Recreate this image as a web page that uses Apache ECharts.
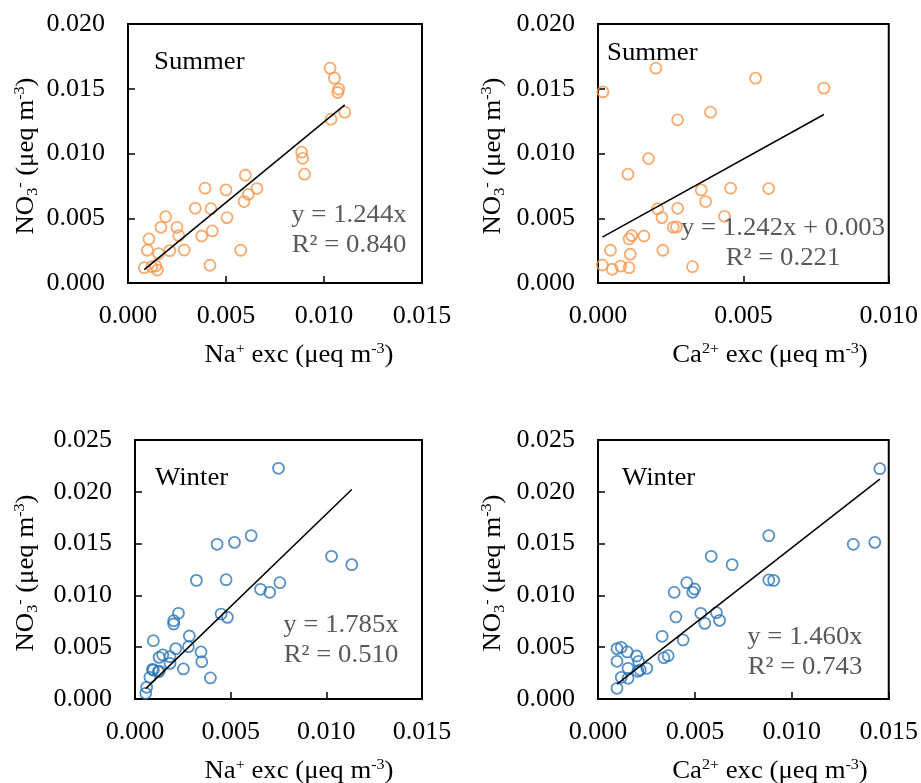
<!DOCTYPE html>
<html>
<head>
<meta charset="utf-8">
<script src="https://cdn.jsdelivr.net/npm/echarts@6/dist/echarts.min.js"></script>
<style>
html,body{margin:0;padding:0;background:#fff;}
#c{width:921px;height:783px;}
</style>
</head>
<body>
<div id="c"></div>
<script>
// ---- Data ----
const summerNaX = [0.01031,0.01053,0.01075,0.0107,0.01106,0.01036,0.00886,0.00891,0.00901,0.00599,0.00658,0.00614,0.00592,0.005,0.00393,0.00343,0.00423,0.00505,0.00192,0.00168,0.0025,0.00259,0.00376,0.0043,0.00107,0.00099,0.00156,0.00213,0.00287,0.00575,0.00418,0.00083,0.00121,0.00141,0.0015];
const summerNaY = [0.01659,0.01582,0.01497,0.01471,0.01319,0.01265,0.0101,0.00963,0.0084,0.00832,0.00729,0.00685,0.00629,0.00719,0.00732,0.00577,0.00574,0.00505,0.00512,0.0043,0.0043,0.00366,0.00363,0.00402,0.0034,0.00253,0.00227,0.0025,0.00255,0.00253,0.00137,0.00118,0.00126,0.00131,0.001];

const summerCaX = [0.00199,0.00542,0.00777,0.00017,0.00387,0.00274,0.00174,0.00103,0.00355,0.00456,0.00587,0.0037,0.00205,0.00274,0.0022,0.00435,0.00259,0.0027,0.00107,0.00116,0.00158,0.00043,0.00111,0.00223,0.00015,0.00049,0.00078,0.00107,0.00325];
const summerCaY = [0.01659,0.01582,0.01505,0.01476,0.01319,0.0126,0.00961,0.0084,0.00719,0.00732,0.00729,0.00629,0.00574,0.00577,0.00505,0.00515,0.0043,0.00433,0.0034,0.00366,0.00363,0.00253,0.00222,0.00253,0.00139,0.00106,0.00131,0.00118,0.00126];

const winterNaX = [0.0075,0.00607,0.00429,0.0052,0.01027,0.01133,0.00321,0.00476,0.00656,0.00704,0.00757,0.00227,0.00202,0.00202,0.0045,0.00483,0.00284,0.00279,0.00213,0.00096,0.00345,0.00349,0.00253,0.00394,0.00145,0.00126,0.00183,0.00183,0.00096,0.00122,0.00078,0.00061,0.00056,0.00127,0.00091];
const winterNaY = [0.02227,0.01577,0.01493,0.01512,0.01377,0.01297,0.01145,0.01152,0.01059,0.0103,0.01123,0.00827,0.00756,0.00724,0.0082,0.00788,0.00608,0.00505,0.00486,0.00563,0.00454,0.0036,0.0029,0.00203,0.00425,0.00402,0.00409,0.00344,0.0028,0.00264,0.00209,0.00113,0.00055,0.0027,0.00286];

const winterCaX = [0.01454,0.00881,0.01317,0.01428,0.00584,0.00692,0.00881,0.00906,0.00458,0.00498,0.00489,0.00393,0.0053,0.00611,0.00551,0.00627,0.00402,0.00331,0.00439,0.0034,0.00362,0.00098,0.0012,0.00151,0.00199,0.00098,0.00209,0.00155,0.00252,0.00218,0.00206,0.0012,0.00155,0.00098];
const winterCaY = [0.02223,0.01577,0.01493,0.01512,0.01377,0.01297,0.01149,0.01145,0.01123,0.01062,0.0103,0.0103,0.00827,0.00833,0.0073,0.00759,0.00792,0.00605,0.0057,0.00399,0.00418,0.00486,0.00499,0.00454,0.00415,0.00364,0.00364,0.00296,0.00296,0.0028,0.00267,0.00209,0.002,0.00103];

const slopes = [1.244, 1.242, 1.785, 1.460];
const intercepts = [0, 0.00336, 0, 0];
const eqLabels = ['y = 1.244x', 'y = 1.242x + 0.003', 'y = 1.785x', 'y = 1.460x'];
const r2Labels = ['R² = 0.840', 'R² = 0.221', 'R² = 0.510', 'R² = 0.743'];
const seasonLabels = ['Summer', 'Summer', 'Winter', 'Winter'];
const xMaxes = [0.015, 0.010, 0.015, 0.015];
const yMaxes = [0.020, 0.020, 0.025, 0.025];
const tickStep = 0.005;

// ---- Chart ----
const FONT = 'Liberation Serif';
const ORANGE = '#F7964A';
const BLUE = '#2E75B6';
const GREY = '#595959';
const SX = 1.07;
const panels = [
  {x: summerNaX, y: summerNaY, color: ORANGE},
  {x: summerCaX, y: summerCaY, color: ORANGE},
  {x: winterNaX, y: winterNaY, color: BLUE},
  {x: winterCaX, y: winterCaY, color: BLUE}
];
const grids = [
  {left: 128, top: 24, width: 294, height: 259},
  {left: 598, top: 24, width: 291, height: 259},
  {left: 135, top: 440, width: 287, height: 259},
  {left: 598, top: 440, width: 291, height: 259}
];

const chart = echarts.init(document.getElementById('c'), null, {renderer: 'canvas'});

const axisCommon = {
  type: 'value',
  interval: tickStep,
  axisLine: {show: true, onZero: false, lineStyle: {color: '#000', width: 2}},
  axisTick: {show: true, inside: true, length: 7, lineStyle: {color: '#000', width: 1.5}},
  splitLine: {show: false},
  axisLabel: {formatter: v => v.toFixed(3), fontFamily: FONT, fontSize: 26, color: '#000'}
};

const xAxes = [], yAxes = [], series = [];
panels.forEach((p, i) => {
  xAxes.push(Object.assign({}, axisCommon, {gridIndex: i, min: 0, max: xMaxes[i],
    axisLabel: Object.assign({}, axisCommon.axisLabel, {margin: 20})}));
  yAxes.push(Object.assign({}, axisCommon, {gridIndex: i, min: 0, max: yMaxes[i],
    axisLabel: Object.assign({}, axisCommon.axisLabel, {margin: 23})}));
  series.push({
    type: 'scatter', xAxisIndex: i, yAxisIndex: i,
    data: p.x.map((v, k) => [v, p.y[k]]),
    symbol: 'circle', symbolSize: 11,
    itemStyle: {color: 'rgba(255,255,255,0)', borderColor: p.color, borderWidth: 1.8},
    z: 2
  });
  const xmin = Math.min(...p.x), xmax = Math.max(...p.x);
  series.push({
    type: 'line', xAxisIndex: i, yAxisIndex: i,
    data: [[xmin, slopes[i] * xmin + intercepts[i]], [xmax, slopes[i] * xmax + intercepts[i]]],
    symbol: 'none', lineStyle: {color: '#000', width: 1.5}, z: 3, silent: true
  });
});

const supSub = {
  main: {fontFamily: FONT, fontSize: 25, color: '#000', lineHeight: 30},
  sup: {fontFamily: FONT, fontSize: 15, color: '#000', verticalAlign: 'bottom', padding: [0, 0, 13, 0]},
  sub: {fontFamily: FONT, fontSize: 15, color: '#000', verticalAlign: 'bottom', padding: [0, 0, 0, 0]}
};
function richText(x, y, str, rot) {
  return {
    type: 'text', x: x, y: y, rotation: rot || 0, scaleX: SX, z: 10,
    style: {text: str, rich: supSub, align: 'center', verticalAlign: 'middle',
      font: '25px ' + FONT, fill: '#000'}
  };
}
function plain(x, y, str, color, align) {
  return {
    type: 'text', x: x, y: y, scaleX: SX, z: 10,
    style: {text: str, fontFamily: FONT, fontSize: 25, fill: color, align: align || 'left', verticalAlign: 'middle'}
  };
}

const xTitles = [
  '{main|Na}{sup|+}{main| exc (μeq m}{sup|-3}{main|)}',
  '{main|Ca}{sup|2+}{main| exc (μeq m}{sup|-3}{main|)}',
  '{main|Na}{sup|+}{main| exc (μeq m}{sup|-3}{main|)}',
  '{main|Ca}{sup|2+}{main| exc (μeq m}{sup|-3}{main|)}'
];
const yTitle = '{main|NO}{sub|3}{sup|-}{main| (μeq m}{sup|-3}{main|)}';

const graphic = [
  richText(299, 355, xTitles[0]),
  richText(770, 355, xTitles[1]),
  richText(299, 771, xTitles[2]),
  richText(770, 771, xTitles[3]),
  richText(26, 156, yTitle, Math.PI / 2),
  richText(493, 156, yTitle, Math.PI / 2),
  richText(26, 573, yTitle, Math.PI / 2),
  richText(493, 573, yTitle, Math.PI / 2),
  plain(154, 62, seasonLabels[0], '#000'),
  plain(607, 53, seasonLabels[1], '#000'),
  plain(155, 478, seasonLabels[2], '#000'),
  plain(622, 478, seasonLabels[3], '#000'),
  plain(349, 215, eqLabels[0], GREY, 'center'),
  plain(349, 245, r2Labels[0], GREY, 'center'),
  plain(783, 228, eqLabels[1], GREY, 'center'),
  plain(783, 258, r2Labels[1], GREY, 'center'),
  plain(341, 625, eqLabels[2], GREY, 'center'),
  plain(341, 655, r2Labels[2], GREY, 'center'),
  plain(805, 637, eqLabels[3], GREY, 'center'),
  plain(805, 667, r2Labels[3], GREY, 'center')
];

chart.setOption({
  animation: false,
  backgroundColor: '#fff',
  grid: grids.map(g => Object.assign({show: true, borderColor: '#000', borderWidth: 2, containLabel: false}, g)),
  xAxis: xAxes,
  yAxis: yAxes,
  series: series,
  graphic: graphic
});
</script>
</body>
</html>
